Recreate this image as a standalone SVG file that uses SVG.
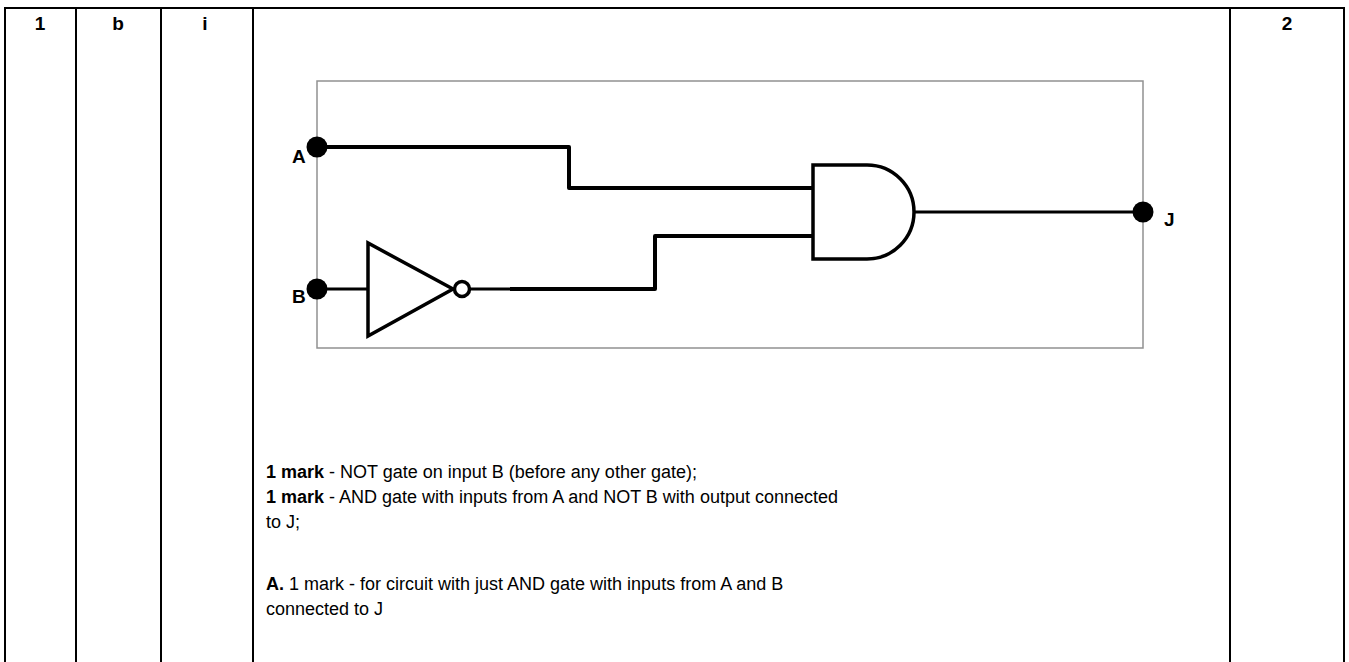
<svg xmlns="http://www.w3.org/2000/svg" width="1349" height="662" viewBox="0 0 1349 662">
<style>
.grid{stroke:#000;stroke-width:2;fill:none}
.hd{font-family:"Liberation Sans",Arial,sans-serif;font-weight:bold;font-size:19px;text-anchor:middle}
.tx{font-family:"Liberation Sans",Arial,sans-serif;font-size:18px}
.b{font-weight:bold}
.lbl{font-family:"Liberation Sans",Arial,sans-serif;font-weight:bold;font-size:19px}
.wire{stroke:#000;stroke-width:4;fill:none;stroke-linejoin:round}
.thin{stroke:#000;stroke-width:3;fill:none}
.gate{stroke:#000;stroke-width:3.5;fill:#fff}
</style>
<rect width="1349" height="662" fill="#fff"/>
<g id="table">
<line class="grid" x1="4" y1="8" x2="1345" y2="8"/>
<line class="grid" x1="5" y1="7" x2="5" y2="662"/>
<line class="grid" x1="76" y1="7" x2="76" y2="662"/>
<line class="grid" x1="161" y1="7" x2="161" y2="662"/>
<line class="grid" x1="253" y1="7" x2="253" y2="662"/>
<line class="grid" x1="1230" y1="7" x2="1230" y2="662"/>
<line class="grid" x1="1344" y1="7" x2="1344" y2="662"/>
<text class="hd" x="40" y="30">1</text>
<text class="hd" x="118" y="30">b</text>
<text class="hd" x="205" y="30">i</text>
<text class="hd" x="1287" y="30">2</text>
</g>
<g id="frame">
<rect x="317" y="81" width="826" height="267" fill="none" stroke="#919191" stroke-width="1.5"/>
</g>
<g id="nodeA">
<text class="lbl" x="292" y="163">A</text>
<circle cx="317" cy="147" r="10.5" fill="#000"/>
</g>
<g id="nodeB">
<text class="lbl" x="292" y="303">B</text>
<circle cx="317" cy="289" r="10.5" fill="#000"/>
</g>
<g id="connectors">
<polyline class="wire" points="317,147 569,147 569,188 812,188"/>
<polyline class="wire" points="510,289 655,289 655,236 812,236"/>
<line class="thin" x1="317" y1="289" x2="368" y2="289"/>
<line class="thin" x1="469" y1="289" x2="512" y2="289"/>
<line class="thin" x1="914" y1="212" x2="1143" y2="212"/>
</g>
<g id="notGate">
<polygon class="gate" points="368,243 368,336 453,289"/>
<circle class="gate" cx="462" cy="289" r="7.5"/>
</g>
<g id="andGate">
<path class="gate" d="M813,165 H867 A47,47 0 0 1 867,259 H813 Z"/>
</g>
<g id="nodeJ">
<circle cx="1143" cy="212" r="10.5" fill="#000"/>
<text class="lbl" x="1164" y="226">J</text>
</g>
<g id="notes">
<text class="tx" x="266" y="478"><tspan class="b">1 mark</tspan> - NOT gate on input B (before any other gate);</text>
<text class="tx" x="266" y="503"><tspan class="b">1 mark</tspan> - AND gate with inputs from A and NOT B with output connected</text>
<text class="tx" x="266" y="528">to J;</text>
<text class="tx" x="266" y="590"><tspan class="b">A.</tspan> 1 mark - for circuit with just AND gate with inputs from A and B</text>
<text class="tx" x="266" y="615">connected to J</text>
</g>
</svg>
